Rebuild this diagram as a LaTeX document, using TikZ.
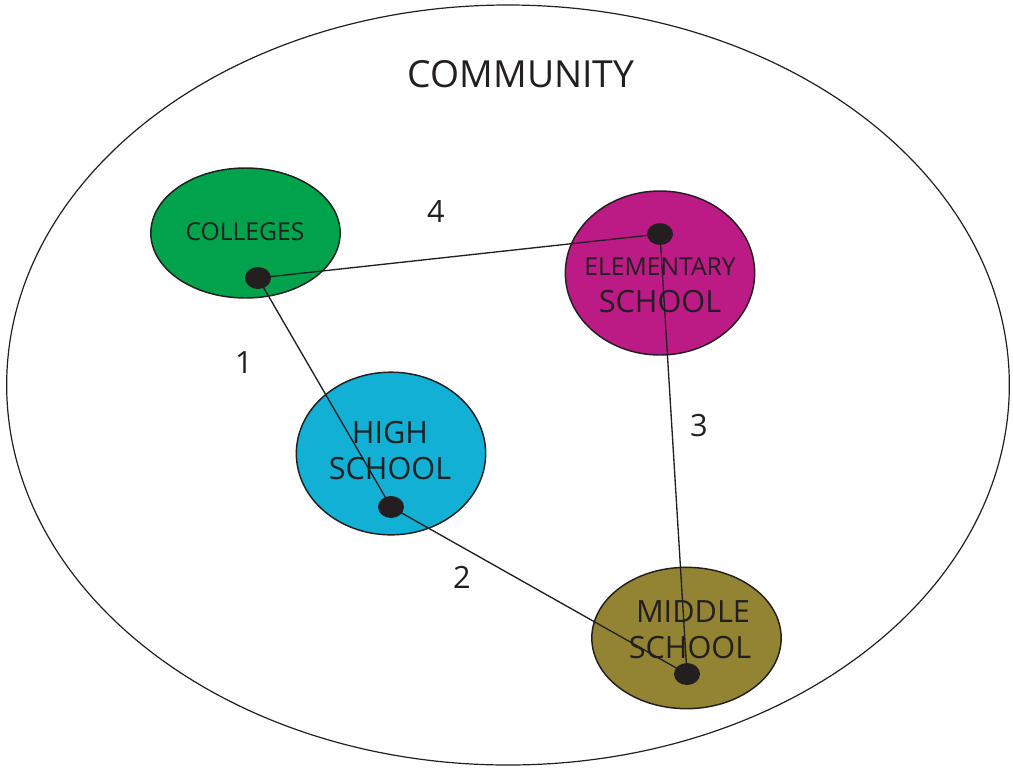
\documentclass[tikz,border=0pt]{standalone}
\usepackage{fontspec}
\setmainfont{Open Sans}
\usetikzlibrary{shapes.geometric}
\definecolor{ink}{HTML}{231F20}
\definecolor{cgreen}{HTML}{00A24B}
\definecolor{cmag}{HTML}{BC1B85}
\definecolor{ccyan}{HTML}{12B0D4}
\definecolor{colive}{HTML}{928433}
\tikzset{
  blob/.style={ellipse, draw=ink, line width=1.1pt, inner sep=0pt},
  dotnode/.style={ellipse, fill=ink, inner sep=0pt, minimum width=19.5pt, minimum height=16.5pt},
  link/.style={draw=ink, line width=1pt},
  lbl/.style={text=ink, inner sep=0pt, font=\fontsize{23}{23}\selectfont},
}
\begin{document}
\begin{tikzpicture}[x=0.75pt,y=-0.75pt]
\useasboundingbox (0,0) rectangle (1013,768);
\node[ellipse, draw=ink, line width=0.9pt, inner sep=0pt, minimum width=752pt, minimum height=570pt] (community) at (508,385) {};
\node[lbl, font=\fontsize{28}{28}\selectfont] (ctitle) at (521,74) {COMMUNITY};

\node[blob, fill=cgreen, minimum width=142pt, minimum height=97.5pt] (colleges) at (245.5,233) {};
\node[blob, fill=cmag, minimum width=142pt, minimum height=123pt] (elem) at (660,273) {};
\node[blob, fill=ccyan, minimum width=142pt, minimum height=122pt] (high) at (391,453.5) {};
\node[blob, fill=colive, minimum width=142pt, minimum height=106pt] (middle) at (686.5,638) {};

\node[lbl, font=\fontsize{18.5}{18.5}\selectfont] (tcol) at (245,232) {COLLEGES};
\node[lbl, font=\fontsize{18.5}{18.5}\selectfont] (tel1) at (660,267) {ELEMENTARY};
\node[lbl, font=\fontsize{23}{23}\selectfont] (tel2) at (660,302) {SCHOOL};
\node[lbl, font=\fontsize{23}{23}\selectfont] (th1) at (390,433) {HIGH};
\node[lbl, font=\fontsize{23}{23}\selectfont] (th2) at (390,469) {SCHOOL};
\node[lbl, font=\fontsize{23}{23}\selectfont] (tm1) at (693,612) {MIDDLE};
\node[lbl, font=\fontsize{23}{23}\selectfont] (tm2) at (690,648) {SCHOOL};

\coordinate (pc) at (258,278);
\coordinate (pe) at (660,234);
\coordinate (ph) at (391,507);
\coordinate (pm) at (687,674);

\draw[link] (pc) -- (pe);
\draw[link] (pc) -- (ph);
\draw[link] (ph) -- (pm);
\draw[link] (pe) -- (pm);

\node[dotnode] (dc) at (pc) {};
\node[dotnode] (de) at (pe) {};
\node[dotnode] (dh) at (ph) {};
\node[dotnode] (dm) at (pm) {};

\node[lbl] (n4) at (436,211) {4};
\node[lbl] (n1) at (244,363) {1};
\node[lbl] (n3) at (699,426) {3};
\node[lbl] (n2) at (462,577) {2};
\end{tikzpicture}
\end{document}
